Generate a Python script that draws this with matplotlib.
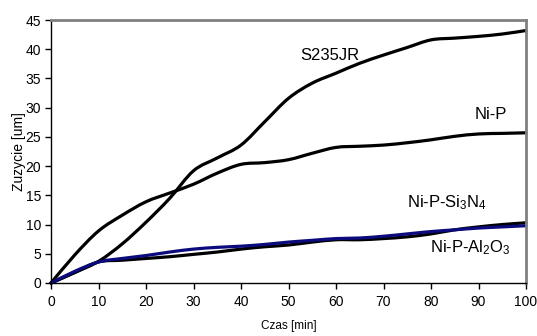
import matplotlib
matplotlib.use("Agg")
import matplotlib.pyplot as plt
from matplotlib.path import Path
from matplotlib.patches import PathPatch

plt.rcParams['font.family'] = ['Liberation Sans', 'DejaVu Sans']
plt.rcParams['mathtext.fontset'] = 'custom'
plt.rcParams['mathtext.rm'] = 'Liberation Sans'
plt.rcParams['mathtext.it'] = 'Liberation Sans'
plt.rcParams['mathtext.bf'] = 'Liberation Sans'

time_min = [0, 5, 10, 15, 20, 25, 30, 35, 40, 45, 50, 55, 60, 65, 70, 75, 80, 85, 90, 95, 100]
s235jr = [0, 1.8, 3.7, 6.7, 10.4, 14.5, 19.2, 21.4, 23.6, 27.6, 31.6, 34.2, 35.9, 37.6, 39.0, 40.3, 41.6, 41.9, 42.2, 42.6, 43.2]
ni_p = [0, 4.8, 8.9, 11.6, 13.9, 15.4, 16.9, 18.8, 20.3, 20.6, 21.1, 22.2, 23.2, 23.4, 23.6, 24.0, 24.5, 25.1, 25.5, 25.6, 25.7]
ni_p_si3n4 = [0, 1.8, 3.6, 3.9, 4.2, 4.5, 4.9, 5.3, 5.8, 6.2, 6.5, 7.0, 7.4, 7.4, 7.6, 7.9, 8.4, 9.1, 9.6, 10.0, 10.3]
ni_p_al2o3 = [0, 2.0, 3.6, 4.2, 4.7, 5.3, 5.8, 6.1, 6.3, 6.6, 7.0, 7.3, 7.6, 7.7, 8.0, 8.4, 8.8, 9.1, 9.4, 9.6, 9.8]

x_ticks = [0, 10, 20, 30, 40, 50, 60, 70, 80, 90, 100]
y_ticks = [0, 5, 10, 15, 20, 25, 30, 35, 40, 45]


def smooth_path(xs, ys):
    # Excel-style smoothed line: cubic Bezier segments through the data points
    verts = [(xs[0], ys[0])]
    codes = [Path.MOVETO]
    n = len(xs)
    for i in range(n - 1):
        x0, y0 = (xs[i - 1], ys[i - 1]) if i > 0 else (xs[i], ys[i])
        x1, y1 = xs[i], ys[i]
        x2, y2 = xs[i + 1], ys[i + 1]
        x3, y3 = (xs[i + 2], ys[i + 2]) if i + 2 < n else (xs[i + 1], ys[i + 1])
        c1 = (x1 + (x2 - x0) / 6.0, y1 + (y2 - y0) / 6.0)
        c2 = (x2 - (x3 - x1) / 6.0, y2 - (y3 - y1) / 6.0)
        verts += [c1, c2, (x2, y2)]
        codes += [Path.CURVE4, Path.CURVE4, Path.CURVE4]
    return Path(verts, codes)


fig = plt.figure(figsize=(5.37, 3.36), dpi=100)
ax = fig.add_axes([51/537, 1-283/336, 475/537, 263/336])

lw = 2.3
series = [(s235jr, 'black'), (ni_p, 'black'), (ni_p_si3n4, 'black'), (ni_p_al2o3, '#0b0b7e')]
for ys, col in series:
    ax.add_patch(PathPatch(smooth_path(time_min, ys), facecolor='none', edgecolor=col,
                           lw=lw, capstyle='round', joinstyle='round', clip_on=False))

ax.set_xlim(0, 100)
ax.set_ylim(0, 45)
ax.set_xticks(x_ticks)
ax.set_yticks(y_ticks)
ax.tick_params(axis='both', direction='out', length=4, width=1, color='black', labelsize=10)
ax.tick_params(axis='x', pad=5)
ax.tick_params(axis='y', pad=3)

for s in ['top', 'right']:
    ax.spines[s].set_color('#808080')
    ax.spines[s].set_linewidth(2)
for s in ['left', 'bottom']:
    ax.spines[s].set_color('black')
    ax.spines[s].set_linewidth(1)

ax.text(58.7, 39.0, 'S235JR', ha='center', va='center', fontsize=12)
ax.text(92.6, 28.8, 'Ni-P', ha='center', va='center', fontsize=12)
ax.text(83.4, 13.7, r'Ni-P-Si$_3$N$_4$', ha='center', va='center', fontsize=12)
ax.text(88.2, 6.0, r'Ni-P-Al$_2$O$_3$', ha='center', va='center', fontsize=12)

ax.set_xlabel('Czas [min]', fontsize=8.5)
ax.set_ylabel('Zuzycie [um]', fontsize=10)
ax.xaxis.set_label_coords(0.5, -0.14)
ax.yaxis.set_label_coords(-0.052, 0.5)

fig.savefig('out.png', dpi=100)
